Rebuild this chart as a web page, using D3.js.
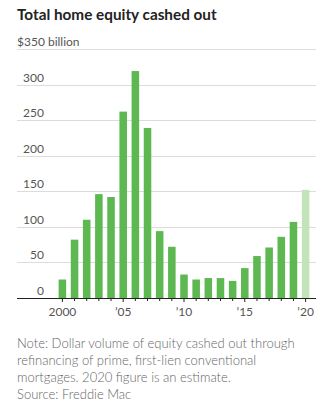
<!DOCTYPE html>
<html>
<head>
<meta charset="utf-8">
<script src="https://cdn.jsdelivr.net/npm/d3@7"></script>
<style>
  body { margin: 0; background: #fff; }
  svg { display: block; font-family: Lato, sans-serif; }
</style>
</head>
<body>
<div id="chart"></div>
<script>
const years = [2000, 2001, 2002, 2003, 2004, 2005, 2006, 2007, 2008, 2009, 2010,
               2011, 2012, 2013, 2014, 2015, 2016, 2017, 2018, 2019, 2020];
const amounts = [26, 82, 110, 146, 142, 262, 319, 239, 94, 72, 33,
                 26, 28, 28, 24, 42, 59, 71, 86, 107, 152];
const estimateYear = 2020;
const yTicks = [0, 50, 100, 150, 200, 250, 300, 350];
const xLabels = {2000: '2000', 2005: '\u201905', 2010: '\u201910', 2015: '\u201915', 2020: '\u201920'};
const noteLines = [
    'Note: Dollar volume of equity cashed out through',
    'refinancing of prime, first-lien conventional',
    'mortgages. 2020 figure is an estimate.',
    'Source: Freddie Mac'
];

let width = 330;
let height = 416;

let margin = {
    top: 49,
    right: 14,
    bottom: 118,
    left: 17
}

let svg = d3.select('#chart').append('svg')
    .attr('width', width)
    .attr('height', height);

svg.append('text')
    .attr('x', 17)
    .attr('y', 20)
    .attr('font-size', 15.3)
    .attr('font-weight', 'bold')
    .attr('fill', '#222')
    .text('Total home equity cashed out');

let y = d3.scaleLinear()
    .domain([0, 350])
    .range([height - margin.bottom, margin.top]);

let x = d3.scaleBand()
    .domain(years)
    .range([54, 314])
    .padding(0.38);

// gridlines + labels
let grid = svg.append('g');
grid.selectAll('line')
    .data(yTicks.filter(d => d > 0))
    .join('line')
        .attr('x1', margin.left)
        .attr('x2', width - margin.right)
        .attr('y1', d => Math.round(y(d)) + 0.5)
        .attr('y2', d => Math.round(y(d)) + 0.5)
        .attr('stroke', '#dcdcdc');

grid.selectAll('text')
    .data(yTicks)
    .join('text')
        .attr('x', d => d === 350 ? 17 : 44)
        .attr('y', d => y(d) - 3)
        .attr('text-anchor', d => d === 350 ? 'start' : 'end')
        .attr('font-size', 12)
        .attr('fill', '#555')
        .text(d => d === 350 ? '$350 billion' : d);

svg.selectAll('rect')
    .data(years)
    .join('rect')
        .attr('x', (d) => x(d))
        .attr('y', (d, i) => y(amounts[i]))
        .attr('width', x.bandwidth())
        .attr('height', (d, i) => y(0) - y(amounts[i]))
        .attr('fill', d => d === estimateYear ? '#c5e3bb' : '#5db851');

// x axis
let xAxis = svg.append('g')
    .attr('transform', `translate(0,${y(0)})`)
    .call(d3.axisBottom(x)
        .tickSizeInner(4)
        .tickSizeOuter(0)
        .tickFormat(d => xLabels[d] || ''));

xAxis.select('.domain')
    .attr('d', `M${margin.left},0.5H${width - margin.right}`)
    .attr('stroke', '#222');
xAxis.selectAll('.tick line')
    .attr('stroke', '#222')
    .attr('y2', d => xLabels[d] ? 4 : 3);
xAxis.selectAll('.tick text')
    .attr('font-family', 'Lato, sans-serif')
    .attr('font-size', 12)
    .attr('fill', '#555')
    .attr('dy', '0.9em');

svg.append('g')
    .selectAll('text')
    .data(noteLines)
    .join('text')
        .attr('x', 17)
        .attr('y', (d, i) => 348 + i * 17)
        .attr('font-size', 13)
        .attr('font-weight', 300)
        .attr('fill', '#666')
        .text(d => d);
</script>
</body>
</html>
